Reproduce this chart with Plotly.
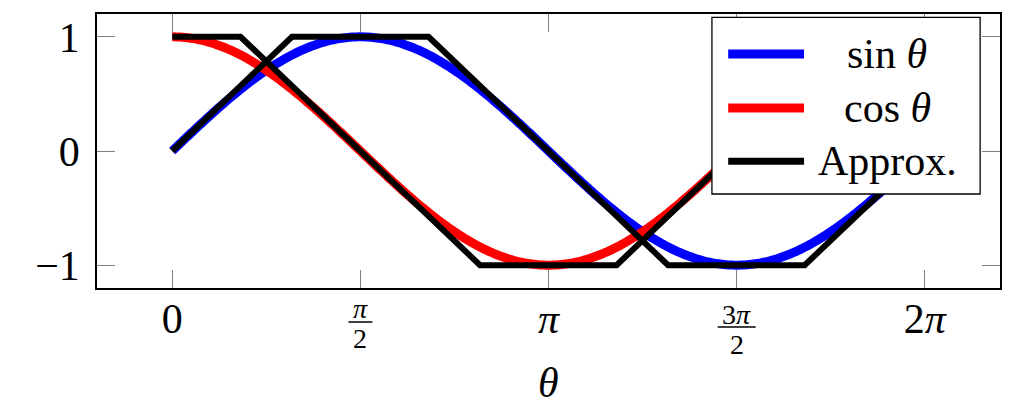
import numpy as np
import plotly.graph_objects as go

# -----------------------------
# Data
# -----------------------------
theta = np.linspace(0, 2 * np.pi, 361)
sin_vals = np.sin(theta)
cos_vals = np.cos(theta)

# piecewise-linear approximations (vertices)
approx_sin_theta = [0.0, 1.0, 2.14, 4.14, 5.28, 6.283]
approx_sin_vals = [0, 1, 1, -1, -1, 0]
approx_cos_theta = [0.0, 0.57, 2.57, 3.71, 5.71, 6.283]
approx_cos_vals = [1, 1, -1, -1, 1, 1]

x_tickvals = [0, np.pi / 2, np.pi, 3 * np.pi / 2, 2 * np.pi]
x_ticktext = ["0", "", "<i>π</i>", "", "2<i>π</i>"]
frac_pos = [np.pi / 2, 3 * np.pi / 2]
frac_num = ["<i>π</i>", "3<i>π</i>"]
frac_den = ["2", "2"]
y_tickvals = [-1, 0, 1]
y_ticktext = ["−1", "0", "1"]

legend_names = ["sin <i>θ</i>", "cos <i>θ</i>", "Approx."]
legend_colors = ["#0000ff", "#ff0000", "#000000"]

FONT = "Liberation Serif"
X_RANGE = [-0.628, 6.911]

fig = go.Figure()

fig.add_trace(go.Scatter(x=theta, y=sin_vals, mode="lines",
                         line=dict(color="#0000ff", width=9, simplify=False)))
fig.add_trace(go.Scatter(x=theta, y=cos_vals, mode="lines",
                         line=dict(color="#ff0000", width=9, simplify=False)))
fig.add_trace(go.Scatter(x=approx_sin_theta, y=approx_sin_vals, mode="lines",
                         line=dict(color="#000000", width=6)))
fig.add_trace(go.Scatter(x=approx_cos_theta, y=approx_cos_vals, mode="lines",
                         line=dict(color="#000000", width=6)))

# -----------------------------
# Fraction tick labels
# -----------------------------
shapes = []
annotations = []
num_shift = [-20, -26]
bar_shift = [-34, -39]
den_shift = [-50, -56]
for i, (xv, n, d) in enumerate(zip(frac_pos, frac_num, frac_den)):
    px = (xv - X_RANGE[0]) / (X_RANGE[1] - X_RANGE[0])
    annotations.append(dict(x=px, y=0, xref="paper", yref="paper", text=n,
                            showarrow=False, xanchor="center", yanchor="middle",
                            yshift=num_shift[i],
                            font=dict(family=FONT, size=28, color="black")))
    annotations.append(dict(x=px, y=0, xref="paper", yref="paper", text=d,
                            showarrow=False, xanchor="center", yanchor="middle",
                            yshift=den_shift[i],
                            font=dict(family=FONT, size=28, color="black")))
    half = 12 if i == 0 else 19
    shapes.append(dict(type="line", xref="paper", yref="paper",
                       xsizemode="pixel", xanchor=px, x0=-half, x1=half,
                       ysizemode="pixel", yanchor=0, y0=bar_shift[i], y1=bar_shift[i],
                       line=dict(color="black", width=1.5)))

# axis title
annotations.append(dict(x=0.5, y=0, xref="paper", yref="paper", text="<i>θ</i>",
                        showarrow=False, xanchor="center", yanchor="middle",
                        yshift=-95,
                        font=dict(family=FONT, size=42, color="black")))

# -----------------------------
# Manual legend
# -----------------------------
shapes.append(dict(type="rect", xref="paper", yref="paper",
                   x0=0.681, x1=0.978, y0=0.343, y1=0.988,
                   fillcolor="white", line=dict(color="black", width=1.3),
                   layer="above"))
legend_y = [0.854, 0.657, 0.463]
for name, col, ly in zip(legend_names, legend_colors, legend_y):
    shapes.append(dict(type="line", xref="paper", yref="paper",
                       x0=0.699, x1=0.783, y0=ly, y1=ly,
                       line=dict(color=col, width=9 if col != "#000000" else 7),
                       layer="above"))
    annotations.append(dict(x=0.875, y=ly, xref="paper", yref="paper",
                            text=name, showarrow=False, xanchor="center",
                            yanchor="middle",
                            font=dict(family=FONT, size=42, color="black")))

# the page body adds an 8px offset, so the margins are shifted by that much
fig.update_layout(
    width=1021, height=414,
    margin=dict(l=89, r=29, t=6, b=134),
    plot_bgcolor="white", paper_bgcolor="white",
    showlegend=False,
    font=dict(family=FONT, size=42, color="black"),
    shapes=shapes,
    annotations=annotations,
    xaxis=dict(
        range=X_RANGE, automargin=False,
        tickvals=x_tickvals, ticktext=x_ticktext,
        ticks="inside", ticklen=18, tickwidth=1.3, tickcolor="#808080",
        showline=True, linecolor="black", linewidth=1.5, mirror="ticks",
        showgrid=False, zeroline=False, ticklabelstandoff=-7,
    ),
    yaxis=dict(
        range=[-1.2, 1.2], automargin=False,
        tickvals=y_tickvals, ticktext=y_ticktext,
        ticks="inside", ticklen=18, tickwidth=1.3, tickcolor="#808080",
        showline=True, linecolor="black", linewidth=1.5, mirror="ticks",
        showgrid=False, zeroline=False, ticklabelstandoff=7,
    ),
)

fig.write_html("out.html")
